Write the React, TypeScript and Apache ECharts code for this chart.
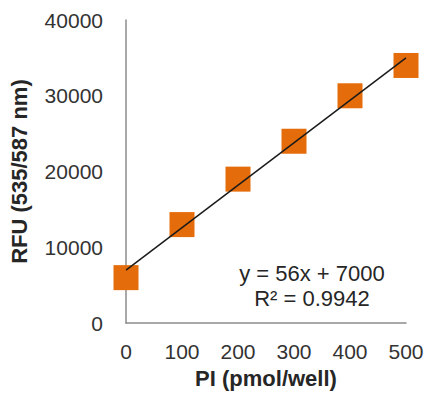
import React, { useEffect, useRef } from "react";
import * as echarts from "echarts";

const xValues = [0, 100, 200, 300, 400, 500];
const rfuValues = [6000, 13000, 19000, 24000, 30000, 34000];
const slope = 56;
const intercept = 7000;
const equationText = "y = 56x + 7000";
const r2Text = "R² = 0.9942";
const xAxisTitle = "PI (pmol/well)";
const yAxisTitle = "RFU (535/587 nm)";

export default function App() {
  const ref = useRef<HTMLDivElement>(null);
  useEffect(() => {
    if (!ref.current) return;
    const chart = echarts.init(ref.current, null, { renderer: "svg" });
    const trend = [xValues[0], xValues[xValues.length - 1]].map((x) => [x, slope * x + intercept]);
    const font = "Arial, 'Liberation Sans', sans-serif";
    chart.setOption({
      animation: false,
      grid: { left: 125, right: 23, top: 20, bottom: 65 },
      xAxis: {
        type: "value",
        min: 0,
        max: 500,
        interval: 100,
        name: xAxisTitle,
        nameLocation: "middle",
        nameGap: 42,
        nameTextStyle: { fontFamily: font, fontSize: 22, fontWeight: "bold", color: "#262626" },
        axisLine: { show: true, lineStyle: { color: "#8c8c8c", width: 1.5 } },
        axisTick: { show: false },
        splitLine: { show: false },
        axisLabel: { fontFamily: font, fontSize: 21, color: "#333333", margin: 18, formatter: (v: number) => String(v) },
      },
      yAxis: {
        type: "value",
        min: 0,
        max: 40000,
        interval: 10000,
        name: yAxisTitle,
        nameLocation: "middle",
        nameGap: 96,
        nameTextStyle: { fontFamily: font, fontSize: 22, fontWeight: "bold", color: "#262626" },
        axisLine: { show: true, lineStyle: { color: "#8c8c8c", width: 1.5 } },
        axisTick: { show: false },
        splitLine: { show: false },
        axisLabel: { fontFamily: font, fontSize: 21, color: "#333333", margin: 23, formatter: (v: number) => String(v) },
      },
      series: [
        {
          type: "scatter",
          data: xValues.map((x, i) => [x, rfuValues[i]]),
          symbol: "rect",
          symbolSize: 25,
          itemStyle: { color: "#E46C0A", opacity: 1 },
          z: 2,
        },
        {
          type: "line",
          data: trend,
          showSymbol: false,
          symbol: "none",
          lineStyle: { color: "#1a1a1a", width: 1.5 },
          z: 3,
        },
      ],
      graphic: [
        {
          type: "text",
          x: 312,
          y: 273,
          style: { text: equationText, fontFamily: font, fontSize: 22, fill: "#262626", align: "center", verticalAlign: "middle" },
        },
        {
          type: "text",
          x: 312,
          y: 298,
          style: { text: r2Text, fontFamily: font, fontSize: 22, fill: "#262626", align: "center", verticalAlign: "middle" },
        },
      ],
    });
    return () => chart.dispose();
  }, []);
  return <div ref={ref} style={{ width: 429, height: 394, position: "absolute", left: 0, top: 0 }} />;
}
